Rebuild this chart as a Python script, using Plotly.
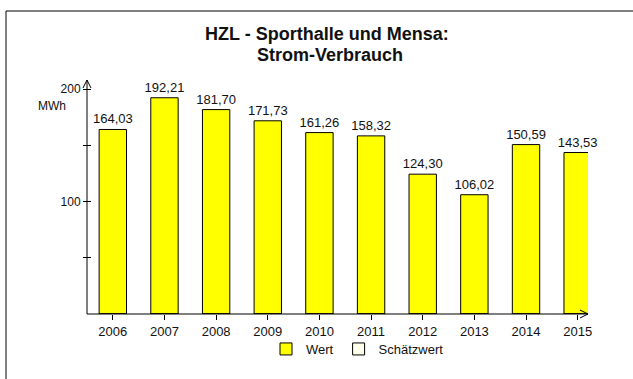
import plotly.graph_objects as go

# Annual electricity consumption (MWh)
years = ["2006", "2007", "2008", "2009", "2010", "2011", "2012", "2013", "2014", "2015"]
wert = [164.03, 192.21, 181.70, 171.73, 161.26, 158.32, 124.30, 106.02, 150.59, 143.53]
schaetzwert = [0, 0, 0, 0, 0, 0, 0, 0, 0, 0]  # no estimated values in this period

y_tickvals = [50, 100, 150, 200]
y_ticktext = ["", "100", "", "200"]

FONT = "Arial, Liberation Sans, sans-serif"
INK = "#111111"
W, H = 633, 379
ML, MR, MT, MB = 87, 45, 80, 65
PW, PH = W - ML - MR, H - MT - MB
YMAX = PH / 1.125


def px_x(x):
    return (x - ML) / PW


def px_y(y):
    return (MT + PH - y) / PH


fig = go.Figure()

fig.add_trace(go.Bar(
    x=years, y=wert, name="Wert",
    marker=dict(color="#FFFF00", line=dict(color="#000000", width=1)),
    width=0.53,
    texttemplate="%{y:.2f}", textposition="outside", constraintext="none",
    textfont=dict(family=FONT, size=13, color=INK),
    cliponaxis=False,
))
fig.add_trace(go.Bar(
    x=years, y=schaetzwert, name="Schätzwert",
    marker=dict(color="#FFFFFF", line=dict(color="#000000", width=1),
                pattern=dict(shape="x", fgcolor="#FFFF00", bgcolor="#FFFFFF", size=6)),
    width=0.53, hoverinfo="skip",
))

fig.update_layout(
    width=W, height=H,
    margin=dict(l=ML, r=MR, t=MT, b=MB),
    paper_bgcolor="white", plot_bgcolor="white",
    separators=",.",
    barmode="overlay",
    font=dict(family=FONT, size=13, color=INK),
    xaxis=dict(
        type="category", range=[-0.5, 9.2],
        showline=False, showgrid=False, zeroline=False,
        ticks="outside", ticklen=5, tickcolor="#000000",
        tickfont=dict(family=FONT, size=13, color=INK),
    ),
    # the axis sits 4 px right of the drawn axis line so its ticks cross that line
    yaxis=dict(
        range=[0, YMAX], showline=False, showgrid=False, zeroline=False,
        anchor="free", position=px_x(ML + 4),
        tickvals=y_tickvals, ticktext=y_ticktext,
        ticks="outside", ticklen=8, tickcolor="#000000",
        tickfont=dict(family=FONT, size=12, color=INK),
    ),
    legend=dict(
        orientation="h", x=px_x(266), xanchor="left", y=px_y(349), yanchor="middle",
        font=dict(family=FONT, size=13, color=INK),
        bgcolor="rgba(0,0,0,0)",
    ),
)

# two-line bold title
fig.add_annotation(x=px_x(327), y=px_y(34), xref="paper", yref="paper",
                   text="<b>HZL - Sporthalle und Mensa:</b>",
                   showarrow=False, xanchor="center", yanchor="middle",
                   font=dict(family=FONT, size=18, color=INK))
fig.add_annotation(x=px_x(330), y=px_y(55), xref="paper", yref="paper",
                   text="<b>Strom-Verbrauch</b>",
                   showarrow=False, xanchor="center", yanchor="middle",
                   font=dict(family=FONT, size=18, color=INK))

# unit label under the top tick
fig.add_annotation(x=0, y=200, xref="paper", yref="y", xshift=-19, yshift=-17,
                   text="MWh", showarrow=False, xanchor="right",
                   font=dict(family=FONT, size=12, color=INK))

axis_line = dict(color="#000000", width=1)
# axis lines
fig.add_shape(type="line", xref="paper", yref="paper", x0=0, x1=0, y0=0, y1=1, line=axis_line)
fig.add_shape(type="line", xref="paper", yref="paper", x0=0, x1=1, y0=0, y1=0, line=axis_line)
# open arrow heads
for dx in (-4, 4):
    fig.add_shape(type="line", xref="paper", yref="paper", xsizemode="pixel", ysizemode="pixel",
                  xanchor=0, yanchor=1, x0=0, y0=0, x1=dx, y1=-8, line=axis_line)
    fig.add_shape(type="line", xref="paper", yref="paper", xsizemode="pixel", ysizemode="pixel",
                  xanchor=1, yanchor=0, x0=0, y0=0, x1=-8, y1=dx, line=axis_line)

# outer frame: top and left edges
frame = dict(color="#000000", width=1)
fig.add_shape(type="line", xref="paper", yref="paper",
              x0=px_x(6), x1=px_x(W), y0=px_y(11), y1=px_y(11), line=frame)
fig.add_shape(type="line", xref="paper", yref="paper",
              x0=px_x(6), x1=px_x(6), y0=px_y(11), y1=px_y(H), line=frame)

# keep the page from scrolling so the full figure width is visible
fig.write_html(
    "out.html",
    config={"displayModeBar": False},
    post_script="document.body.style.margin='0';document.body.style.overflow='hidden';",
)
